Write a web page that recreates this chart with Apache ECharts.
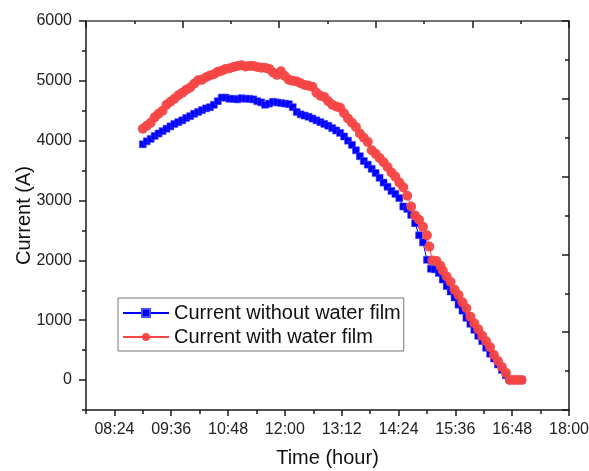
<!DOCTYPE html>
<html>
<head>
<meta charset="utf-8">
<script src="https://cdn.jsdelivr.net/npm/echarts@6/dist/echarts.min.js"></script>
<style>html,body{margin:0;padding:0;background:#fff}#c{width:589px;height:471px}</style>
</head>
<body>
<div id="c"></div>
<script>
// ---- data (time as HH:MM, current in A) ----
const timesWithout = ['09:00','09:05','09:10','09:15','09:20','09:25','09:30','09:35','09:40','09:45','09:50','09:55','10:00','10:05','10:10','10:15','10:20','10:25','10:30','10:35','10:40','10:45','10:50','10:55','11:00','11:05','11:10','11:15','11:20','11:25','11:30','11:35','11:40','11:45','11:50','11:55','12:00','12:05','12:10','12:15','12:20','12:25','12:30','12:35','12:40','12:45','12:50','12:55','13:00','13:05','13:10','13:15','13:20','13:25','13:30','13:35','13:40','13:45','13:50','13:55','14:00','14:05','14:10','14:15','14:20','14:25','14:30','14:35','14:40','14:45','14:50','14:55','15:00','15:05','15:10','15:15','15:20','15:25','15:30','15:35','15:40','15:45','15:50','15:55','16:00','16:05','16:10','16:15','16:20','16:25','16:30','16:35','16:40','16:45','16:50','16:55','17:00'];
const currentWithout = [3940,3990,4030,4080,4120,4160,4200,4240,4280,4310,4340,4380,4410,4450,4480,4510,4540,4560,4600,4660,4720,4720,4700,4700,4690,4710,4700,4700,4690,4660,4640,4600,4620,4650,4640,4630,4620,4610,4560,4480,4440,4420,4400,4370,4340,4310,4280,4250,4210,4170,4130,4070,4000,3930,3840,3740,3660,3600,3530,3460,3380,3300,3230,3160,3110,3040,2900,2860,2760,2620,2420,2300,2010,1860,1850,1790,1680,1570,1480,1380,1260,1160,1040,940,840,740,650,540,440,360,260,170,80,0,0,0,0];
const timesWith = ['09:00','09:05','09:10','09:15','09:20','09:25','09:30','09:35','09:40','09:45','09:50','09:55','10:00','10:05','10:10','10:15','10:20','10:25','10:30','10:35','10:40','10:45','10:50','10:55','11:00','11:05','11:10','11:15','11:20','11:25','11:30','11:35','11:40','11:45','11:50','11:55','12:00','12:05','12:10','12:15','12:20','12:25','12:30','12:35','12:40','12:45','12:50','12:55','13:00','13:05','13:10','13:15','13:20','13:25','13:30','13:35','13:40','13:45','13:50','13:55','14:00','14:05','14:10','14:15','14:20','14:25','14:30','14:35','14:40','14:45','14:50','14:55','15:00','15:03','15:07','15:12','15:17','15:20','15:25','15:30','15:35','15:40','15:45','15:50','15:55','16:00','16:05','16:10','16:15','16:20','16:25','16:30','16:35','16:40','16:45','16:50','16:55','17:00'];
const currentWith = [4200,4250,4300,4390,4450,4500,4600,4650,4700,4760,4800,4850,4890,4950,5010,5020,5060,5090,5110,5150,5170,5200,5210,5230,5250,5260,5240,5250,5250,5230,5220,5220,5200,5140,5100,5160,5080,5020,5000,4990,4960,4930,4920,4900,4800,4750,4730,4660,4600,4570,4550,4460,4370,4300,4230,4120,4050,3980,3840,3780,3710,3640,3560,3470,3400,3300,3220,3080,2900,2750,2680,2560,2420,2230,2000,1990,1910,1830,1730,1640,1510,1420,1300,1200,1060,950,850,740,650,550,420,320,220,120,0,0,0,0];
const xMajorTicks = ['08:24','09:36','10:48','12:00','13:12','14:24','15:36','16:48','18:00'];
const xMinorTicks = ['07:48','09:00','10:12','11:24','12:36','13:48','15:00','16:12','17:24'];
const yMajorTicks = [0,1000,2000,3000,4000,5000,6000];
const yMinorTicks = [-500,500,1500,2500,3500,4500,5500];
const seriesNames = ['Current without water film','Current with water film'];

const toMin = s => { const [h,m] = s.split(':').map(Number); return h*60+m; };
const fmt = v => { const h = Math.floor(v/60), m = Math.round(v - h*60); return String(h).padStart(2,'0')+':'+String(m).padStart(2,'0'); };
const pairs = (t, v) => t.map((s,i) => [toMin(s), v[i]]);

const FONT = 'Liberation Sans, Arial, sans-serif';
const AX = '#1a1a1a';
const chart = echarts.init(document.getElementById('c'));
chart.setOption({
  animation: false,
  backgroundColor: '#fff',
  textStyle: { fontFamily: FONT },
  grid: { left: 86, right: 20, top: 21, bottom: 61, containLabel: false, outerBoundsMode: 'none' },
  legend: {
    orient: 'vertical', left: 118, top: 298,
    data: seriesNames, selectedMode: false,
    itemWidth: 46, itemHeight: 10, itemGap: 4,
    padding: [5, 3, 4, 4],
    borderColor: '#777', borderWidth: 1,
    textStyle: { fontFamily: FONT, fontSize: 20, color: '#111' }
  },
  xAxis: [
    { type: 'value', min: toMin('07:48'), max: toMin('18:00'), position: 'bottom',
      name: 'Time (hour)', nameLocation: 'middle', nameGap: 38, nameMoveOverlap: false,
      nameTextStyle: { fontFamily: FONT, fontSize: 20, color: '#111' },
      axisLine: { show: true, onZero: false, lineStyle: { color: AX, width: 1.5 } },
      axisTick: { show: true, inside: false, length: 6, lineStyle: { color: AX, width: 1.5 }, customValues: xMajorTicks.map(toMin) },
      axisLabel: { fontFamily: FONT, fontSize: 16, color: '#222', margin: 12, hideOverlap: false, customValues: xMajorTicks.map(toMin), formatter: v => fmt(v) },
      splitLine: { show: false } },
    { type: 'value', min: toMin('07:48'), max: toMin('18:00'), position: 'bottom',
      axisLine: { show: false, onZero: false },
      axisTick: { show: true, inside: false, length: 4, lineStyle: { color: AX, width: 1.5 }, customValues: xMinorTicks.map(toMin) },
      axisLabel: { show: false }, splitLine: { show: false } },
    { type: 'value', min: 0, max: 5, interval: 1, position: 'top',
      axisLine: { show: true, onZero: false, lineStyle: { color: '#444', width: 1.5 } },
      axisTick: { show: true, inside: true, length: 7, lineStyle: { color: AX, width: 1.5 } },
      minorTick: { show: true, splitNumber: 2, length: 3, lineStyle: { color: AX, width: 1.5 } },
      axisLabel: { show: false }, splitLine: { show: false } }
  ],
  yAxis: [
    { type: 'value', min: -500, max: 6000, position: 'left',
      name: 'Current (A)', nameLocation: 'middle', nameGap: 52, nameMoveOverlap: false,
      nameTextStyle: { fontFamily: FONT, fontSize: 20, color: '#111' },
      axisLine: { show: true, onZero: false, lineStyle: { color: AX, width: 1.5 } },
      axisTick: { show: true, inside: false, length: 7, lineStyle: { color: AX, width: 1.5 }, customValues: yMajorTicks },
      axisLabel: { fontFamily: FONT, fontSize: 16, color: '#222', margin: 14, customValues: yMajorTicks, formatter: v => String(v) },
      splitLine: { show: false } },
    { type: 'value', min: -500, max: 6000, position: 'left',
      axisLine: { show: false, onZero: false },
      axisTick: { show: true, inside: false, length: 4, lineStyle: { color: AX, width: 1.5 }, customValues: yMinorTicks },
      axisLabel: { show: false }, splitLine: { show: false } },
    { type: 'value', min: 0, max: 5, interval: 1, position: 'right',
      axisLine: { show: true, onZero: false, lineStyle: { color: AX, width: 1.5 } },
      axisTick: { show: true, inside: true, length: 7, lineStyle: { color: AX, width: 1.5 } },
      minorTick: { show: true, splitNumber: 2, length: 4, lineStyle: { color: AX, width: 1.5 } },
      axisLabel: { show: false }, splitLine: { show: false } }
  ],
  series: [
    { name: seriesNames[0], type: 'line', xAxisIndex: 0, yAxisIndex: 0,
      data: pairs(timesWithout, currentWithout),
      symbol: 'rect', symbolSize: 7, showAllSymbol: true,
      lineStyle: { color: '#0000ff', width: 1 },
      itemStyle: { color: '#0000ff', borderColor: '#4a4aff', borderWidth: 0.5 }, z: 2 },
    { name: seriesNames[1], type: 'line', xAxisIndex: 0, yAxisIndex: 0,
      data: pairs(timesWith, currentWith),
      symbol: 'circle', symbolSize: 10, showAllSymbol: true,
      lineStyle: { color: '#f54545', width: 1 },
      itemStyle: { color: '#f54545', opacity: 0.95 }, z: 3 }
  ]
});
</script>
</body>
</html>
